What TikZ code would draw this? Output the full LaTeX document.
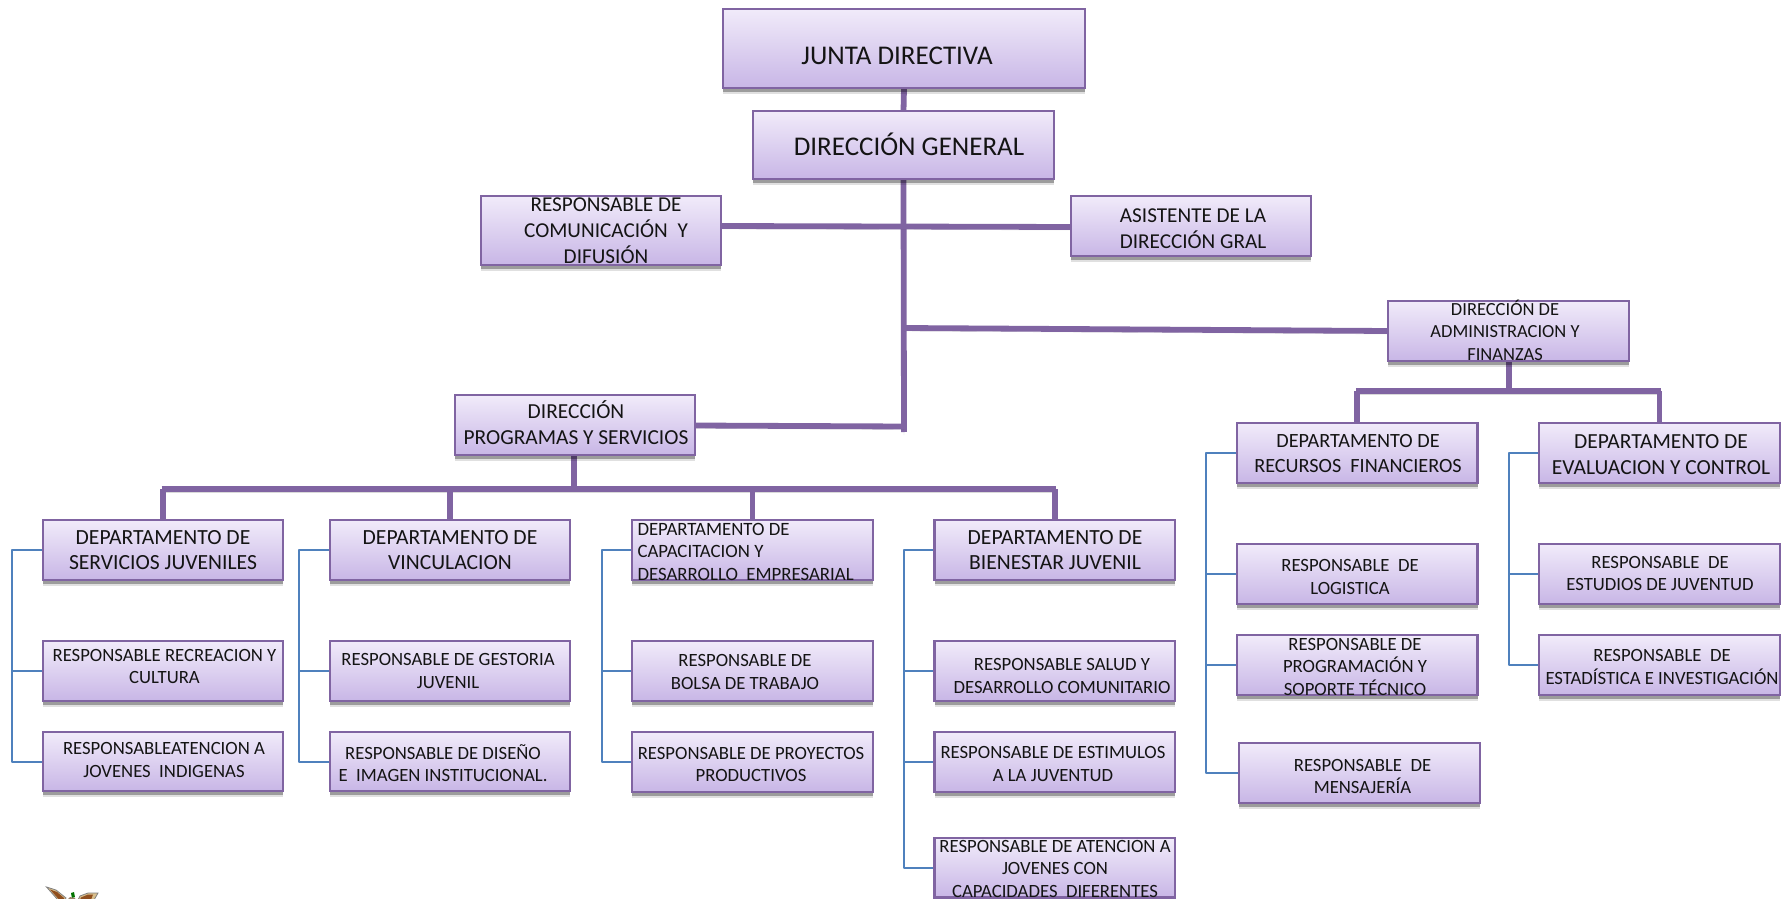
\documentclass[tikz,border=0pt]{standalone}
\usepackage{fontspec}
\setmainfont{Carlito}
\usetikzlibrary{shadows}
\pgfdeclarelayer{back}
\pgfsetlayers{back,main}
\definecolor{boxline}{HTML}{8064A2}
\definecolor{boxtop}{HTML}{F1EBFA}
\definecolor{boxbot}{HTML}{C8B6E6}
\definecolor{bracket}{HTML}{4F81BD}
\definecolor{trunkcol}{HTML}{8064A2}
\definecolor{wingtan}{HTML}{D8BE8C}
\definecolor{wingbrown}{HTML}{8F4E1E}
\tikzset{
  orgbox/.style={draw=boxline,line width=2.2pt,top color=boxtop,bottom color=boxbot,inner sep=0pt,outer sep=0pt,
    general shadow={shadow yshift=-6pt,opacity=.12,fill=black},
    general shadow={shadow yshift=-4pt,opacity=.3,fill=black}},
  orgtext/.style={inner sep=0pt,outer sep=0pt,align=center,text=black!92},
  trunk/.style={draw=trunkcol,line width=5.8pt,preaction={draw=black,opacity=.15,transform canvas={yshift=-3pt}}},
  branch/.style={draw=bracket,line width=2pt,line join=round}
}
\newcommand{\bx}[5]{\node[orgbox,minimum width={(#4-#2-2)*1pt},minimum height={(#5-#3-2)*1pt}] (#1) at ({(#2+#4)/2},{(#3+#5)/2}) {};}
\newcommand{\tx}[6]{\node[orgtext,font=\fontsize{#4}{#5}\selectfont] (#1-t) at (#2,#3) {#6};}
\begin{document}
\begin{tikzpicture}[x=1pt,y=-1pt]
\useasboundingbox (0,0) rectangle (1783,898.2);
\clip (0,0) rectangle (1783,900);
% boxes
\bx{junta}{722}{8}{1086}{89}
\tx{junta}{897}{55.5}{27}{31}{JUNTA DIRECTIVA}
\bx{dg}{752}{110}{1055}{180}
\tx{dg}{909}{144}{27}{31}{DIRECCIÓN GENERAL}
\bx{com}{480}{195}{722}{266}
\tx{com}{606}{230.5}{21.2}{25.8}{RESPONSABLE DE\\COMUNICACIÓN\ \ Y\\DIFUSIÓN}
\bx{asis}{1070}{195}{1312}{257}
\tx{asis}{1193}{229}{21.2}{26}{ASISTENTE DE LA\\DIRECCIÓN GRAL}
\bx{admin}{1387}{300}{1630}{362}
\tx{admin}{1505}{330}{18.5}{22.5}{DIRECCIÓN DE\\ADMINISTRACION Y\\FINANZAS}
\bx{prog}{454}{394}{696}{456}
\tx{prog}{576}{423}{21.4}{26}{DIRECCIÓN\\PROGRAMAS Y SERVICIOS}
\bx{rec}{1236}{422}{1478.5}{484}
\tx{rec}{1358}{453.5}{20.2}{24.5}{DEPARTAMENTO DE\\RECURSOS\ \ FINANCIEROS}
\bx{eval}{1538}{422}{1781}{484}
\tx{eval}{1661}{455}{21.5}{26}{DEPARTAMENTO DE\\EVALUACION Y CONTROL}
\bx{d1}{42}{519}{284}{581}
\tx{d1}{163}{550}{21.6}{25}{DEPARTAMENTO DE\\SERVICIOS JUVENILES}
\bx{d2}{329}{519}{571}{581}
\tx{d2}{450}{550}{21.6}{25}{DEPARTAMENTO DE\\VINCULACION}
\bx{d3}{631}{519}{874}{581}
\node[orgtext,align=left,anchor=west,font=\fontsize{18.8}{22.5}\selectfont] (d3-t) at (637.5,551.5) {DEPARTAMENTO DE\\CAPACITACION Y\\DESARROLLO\ \ EMPRESARIAL};
\bx{d4}{933.5}{519}{1176}{581}
\tx{d4}{1055}{550}{21.6}{25}{DEPARTAMENTO DE\\BIENESTAR JUVENIL}
\bx{r11}{42}{640}{284}{702}
\tx{r11}{164.5}{666.5}{18.7}{22.5}{RESPONSABLE RECREACION Y\\CULTURA}
\bx{r12}{42}{731}{284}{792}
\tx{r12}{164}{760}{18.7}{22.5}{RESPONSABLEATENCION A\\JOVENES\ \ INDIGENAS}
\bx{r21}{329}{640}{571}{702}
\tx{r21}{448}{671}{18.7}{22.5}{RESPONSABLE DE GESTORIA\\JUVENIL}
\bx{r22}{329}{731}{571}{792}
\tx{r22}{443}{763}{18.7}{22.5}{RESPONSABLE DE DISEÑO\\E\ \ IMAGEN INSTITUCIONAL.}
\bx{r31}{631}{640}{874}{702}
\tx{r31}{745}{672}{18.7}{22.5}{RESPONSABLE DE\\BOLSA DE TRABAJO}
\bx{r32}{631}{731}{874}{793}
\tx{r32}{751}{764.5}{18.7}{22.5}{RESPONSABLE DE PROYECTOS\\PRODUCTIVOS}
\bx{r41}{933.5}{640}{1176}{702}
\tx{r41}{1062}{676}{18.7}{22.5}{RESPONSABLE SALUD Y\\DESARROLLO COMUNITARIO}
\bx{r42}{933.5}{731}{1176}{793}
\tx{r42}{1053}{764}{18.7}{22.5}{RESPONSABLE DE ESTIMULOS\\A LA JUVENTUD}
\bx{r43}{933.5}{837}{1176}{898.5}
\tx{r43}{1055}{868.5}{18.7}{22.5}{RESPONSABLE DE ATENCION A\\JOVENES CON\\CAPACIDADES\ \ DIFERENTES}
\bx{a1}{1236}{543}{1478.5}{605}
\tx{a1}{1350}{577}{18.7}{22.5}{RESPONSABLE\ \ DE\\LOGISTICA}
\bx{a2}{1236}{634}{1478.5}{696}
\tx{a2}{1355}{666.5}{18.7}{22.5}{RESPONSABLE DE\\PROGRAMACIÓN Y\\SOPORTE TÉCNICO}
\bx{a3}{1238}{742}{1481}{804}
\tx{a3}{1362.5}{776.5}{18.7}{22.5}{RESPONSABLE\ \ DE\\MENSAJERÍA}
\bx{e1}{1538}{543}{1781}{605}
\tx{e1}{1660}{573.5}{18.7}{22.5}{RESPONSABLE\ \ DE\\ESTUDIOS DE JUVENTUD}
\bx{e2}{1538}{634}{1781}{696}
\tx{e2}{1662}{667}{18.7}{22.5}{RESPONSABLE\ \ DE\\ESTADÍSTICA E INVESTIGACIÓN}
% junction points
\coordinate (trunkend) at (904,432);
\coordinate (adminj) at (904,328);
\coordinate (progj) at (904,426.5);
\coordinate (busL) at (574,489);
\coordinate (busA) at (1509,391);
\coordinate (b1) at (11.5,0);
\coordinate (b2) at (299,0);
\coordinate (b3) at (602,0);
\coordinate (b4) at (904,0);
\coordinate (b5) at (1206,0);
\coordinate (b6) at (1509,0);
\begin{pgfonlayer}{back}
% thick purple connectors
\draw[trunk] (junta.south) -- (dg.north);
\draw[trunk] (dg.south) -- (trunkend);
\draw[trunk] ([yshift=4.5pt]com.east) -- ([yshift=-1pt]asis.west);
\draw[trunk] (adminj) -- (admin.west);
\draw[trunk] ([yshift=-0.5pt]prog.east) -- (progj);
\draw[trunk] (prog.south-|busL) -- (busL);
\draw[trunk] ([xshift=-1.5pt]d1.north|-busL) -- ([xshift=1.5pt]d4.north|-busL);
\draw[trunk] (d1.north|-busL) -- (d1.north);
\draw[trunk] (d2.north|-busL) -- (d2.north);
\draw[trunk] (d3.north|-busL) -- (d3.north);
\draw[trunk] (d4.north|-busL) -- (d4.north);
\draw[trunk] (admin.south-|busA) -- (busA);
\draw[trunk] ([xshift=-1.5pt]rec.north|-busA) -- ([xshift=1.5pt]eval.north|-busA);
\draw[trunk] (rec.north|-busA) -- (rec.north);
\draw[trunk] (eval.north|-busA) -- (eval.north);
% thin blue connectors
\draw[branch] (d1.west) -- (d1.west-|b1) -- (r12.west-|b1) -- (r12.west);
\draw[branch] (r11.west-|b1) -- (r11.west);
\draw[branch] (d2.west) -- (d2.west-|b2) -- (r22.west-|b2) -- (r22.west);
\draw[branch] (r21.west-|b2) -- (r21.west);
\draw[branch] (d3.west) -- (d3.west-|b3) -- (r32.west-|b3) -- (r32.west);
\draw[branch] (r31.west-|b3) -- (r31.west);
\draw[branch] (d4.west) -- (d4.west-|b4) -- (r43.west-|b4) -- (r43.west);
\draw[branch] (r41.west-|b4) -- (r41.west);
\draw[branch] (r42.west-|b4) -- (r42.west);
\draw[branch] (rec.west) -- (rec.west-|b5) -- (a3.west-|b5) -- (a3.west);
\draw[branch] (a1.west-|b5) -- (a1.west);
\draw[branch] (a2.west-|b5) -- (a2.west);
\draw[branch] (eval.west) -- (eval.west-|b6) -- (e2.west-|b6) -- (e2.west);
\draw[branch] (e1.west-|b6) -- (e1.west);
\end{pgfonlayer}
% emblem, cut off by the lower edge
\fill[wingtan,draw=gray,line width=.8pt] (46.5,887) -- (56,890) -- (66,898) -- (65,900) -- (58,900) -- cycle;
\fill[wingbrown] (50,889.5) -- (57,892) -- (64,898) -- (64,900) -- (59.5,900) -- cycle;
\fill[wingtan,draw=gray,line width=.8pt] (98,893) -- (88,893) -- (80,896) -- (78,900) -- (94,900) -- cycle;
\fill[wingbrown] (93,894.5) -- (88,894.5) -- (81,897.5) -- (80,900) -- (91,900) -- cycle;
\fill[green!45!black] (71,893) -- (74,892) -- (75,897) -- (72,898) -- cycle;
\fill[brown!40!gray] (67,900) -- (70,897) -- (75,898) -- (76,900) -- cycle;
\end{tikzpicture}
\end{document}
